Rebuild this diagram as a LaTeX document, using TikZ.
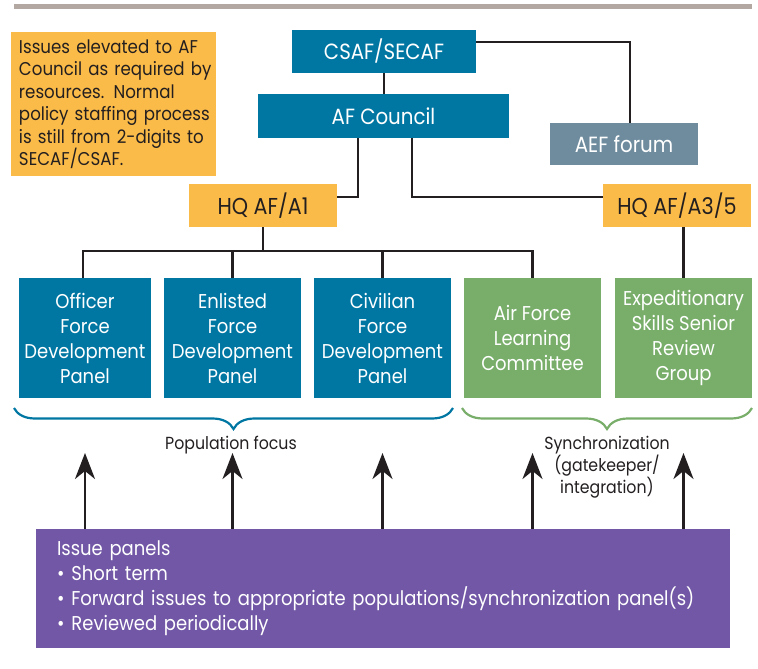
\documentclass[tikz,border=0pt]{standalone}
\usepackage{fontspec}
\setmainfont{Poppins}[FakeStretch=0.9]
\usetikzlibrary{arrows.meta,decorations.pathreplacing}
\definecolor{afblue}{RGB}{0,119,163}
\definecolor{afgreen}{RGB}{120,174,106}
\definecolor{aforange}{RGB}{251,187,72}
\definecolor{afslate}{RGB}{110,140,158}
\definecolor{afpurple}{RGB}{113,87,165}
\definecolor{afrule}{RGB}{180,168,163}
\definecolor{afink}{RGB}{35,31,32}

\begin{document}
\begin{tikzpicture}[x=1pt,y=-1pt,>={Stealth[length=26pt,width=20pt,inset=8pt]}]
\tikzstyle{every node}=[inner sep=0pt, align=center, text=white]
\tikzstyle{head}=[fill=afblue, font=\fontsize{22}{25}\selectfont, minimum height=43pt]
\tikzstyle{hq}=[fill=aforange, text=afink, font=\fontsize{23}{25}\selectfont, minimum width=148pt, minimum height=43pt]
\tikzstyle{panel}=[fill=afblue, font=\fontsize{20}{25}\selectfont, minimum width=137pt, minimum height=120pt]
\tikzstyle{syncpanel}=[panel, fill=afgreen]
\tikzstyle{caption}=[text=afink, font=\fontsize{17.5}{22}\selectfont]
\tikzstyle{link}=[draw=afink, line width=2.3pt]
\tikzstyle{uparrow}=[->, draw=afink, fill=afink, line width=2.3pt]
\tikzstyle{curly}=[line width=2.2pt, decorate, decoration={brace, mirror, amplitude=21pt}]

\useasboundingbox (0,0) rectangle (758,669);
\draw[afrule, line width=5pt] (14,6.5) -- (752,6.5);

% note
\node[fill=aforange, text=afink, align=left, font=\fontsize{18.5}{22.5}\selectfont,
      inner xsep=8pt, text width=189pt, minimum height=144pt] (NOTE) at (113.5,104)
  {\mbox{Issues elevated to AF}\\\mbox{Council as required by}\\\mbox{resources. Normal}\\\mbox{policy staffing process}\\\mbox{is still from 2-digits to}\\\mbox{SECAF/CSAF.}};

% top of the chain
\node[head, minimum width=184pt]	(CSAF) at (384,51.5)	{CSAF/SECAF};
\node[head, minimum width=251pt]	(AFC)  at (383.5,116)	{AF Council};
\node[head, fill=afslate, minimum width=148pt, minimum height=42pt] (AEF) at (624,144) {AEF forum};
\node[hq]	(A1)   at (263,205.5)	{HQ AF/A1};
\node[hq]	(A35)  at (677,205.5)	{HQ AF/A3/5};

% panels
\node[panel, minimum width=132pt]	(OFDP) at (85,338)	{Officer\\Force\\Development\\Panel};
\node[panel]	(EFDP) at (232.5,338)	{Enlisted\\Force\\Development\\Panel};
\node[panel]	(CFDP) at (382.5,338)	{Civilian\\Force\\Development\\Panel};
\node[syncpanel]	(AFLC) at (532.5,338)	{Air Force\\Learning\\Committee};
\node[syncpanel]	(ESRG) at (683.5,338)	{Expeditionary\\Skills Senior\\Review\\Group};

\node[caption]	(POP)  at (231,445)	{Population focus};
\node[caption]	(SYNC) at (607,467)	{Synchronization\\(gatekeeper/\\integration)};

\node[fill=afpurple, align=left, font=\fontsize{20}{25}\selectfont, inner xsep=21pt,
      text width=652pt, minimum height=119pt] (ISSUE) at (383,588.5)
  {Issue panels\\•\hspace{7pt}Short term\\•\hspace{7pt}Forward issues to appropriate populations/synchronization panel(s)\\•\hspace{7pt}Reviewed periodically};

\coordinate (BUS)  at (263,251);
\coordinate (TIPS) at (0,453);

\draw[link] (CSAF.south) -- (CSAF.south |- AFC.north);
\draw[link] ([yshift=9.5pt]CSAF.east) -| ([xshift=6pt]AEF.north);
\draw[link] ([xshift=-25.5pt]AFC.south) |- ([yshift=8.5pt]A1.east);
\draw[link] ([xshift=28.5pt]AFC.south) |- ([yshift=8.5pt]A35.west);
\draw[link] (A1.south) -- (BUS);
\draw[link] ([xshift=-2pt]OFDP.north) |- (BUS -| AFLC.north) -- (AFLC.north);
\draw[link] (EFDP.north) -- (EFDP.north |- BUS);
\draw[link] (CFDP.north) -- (CFDP.north |- BUS);
\draw[link] (ESRG.north |- A35.south) -- (ESRG.north);

\draw[curly, afblue]  (14,408) -- (453,408);
\draw[curly, afgreen] (462,408) -- (752,408);

\foreach \p in {OFDP,EFDP,CFDP,AFLC,ESRG}
  \draw[uparrow] (ISSUE.north -| \p.north) -- (\p.north |- TIPS);
\end{tikzpicture}
\end{document}
